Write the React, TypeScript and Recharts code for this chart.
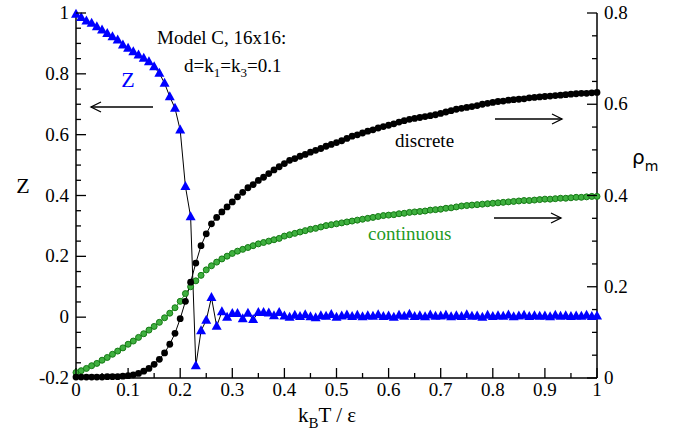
import { LineChart, Line, XAxis, YAxis } from "recharts";

// temperature grid k_B T / eps, step 0.01
const temps = Array.from({ length: 101 }, (_, i) => i / 100);

const zValues = [
  0.996, 0.985, 0.974, 0.966, 0.955, 0.944, 0.933, 0.922, 0.911, 0.895,
  0.884, 0.873, 0.862, 0.851, 0.84, 0.823, 0.802, 0.769, 0.725, 0.687,
  0.615, 0.43, 0.33, -0.16, -0.045, -0.01, 0.065, -0.03, 0.018, 0.0,
  0.012, 0.012, -0.005, 0.013, -0.008, 0.015, 0.015, 0.014, 0.005, 0.015,
  0.004, 0.0, 0.006, 0.002, 0.008, 0.001, -0.002, 0.005, 0.003, 0.009,
  0.0, 0.004, 0.007, 0.002, 0.006, 0.001, 0.005, 0.003, 0.008, 0.002,
  0.004, 0.0, 0.006, 0.003, 0.01, 0.002, 0.005, 0.001, 0.007, 0.003,
  0.004, 0.006, 0.001, 0.005, 0.002, 0.008, 0.003, 0.004, 0.0, 0.006,
  0.002, 0.005, 0.003, 0.007, 0.001, 0.004, 0.006, 0.002, 0.005, 0.003,
  0.004, 0.001, 0.006, 0.003, 0.005, 0.002, 0.004, 0.003, 0.006, 0.002,
  0.004,
];

const rhoDiscrete = [
  0.002, 0.002, 0.002, 0.002, 0.002, 0.002, 0.003, 0.003, 0.003, 0.004,
  0.005, 0.007, 0.01, 0.015, 0.021, 0.03, 0.041, 0.055, 0.074, 0.098,
  0.13, 0.168, 0.21, 0.252, 0.29, 0.316, 0.338, 0.352, 0.364, 0.375,
  0.386, 0.397, 0.407, 0.417, 0.424, 0.433, 0.44, 0.448, 0.456, 0.463,
  0.47, 0.477, 0.481, 0.486, 0.49, 0.495, 0.499, 0.503, 0.508, 0.512,
  0.516, 0.52, 0.525, 0.53, 0.533, 0.537, 0.541, 0.544, 0.548, 0.551,
  0.554, 0.557, 0.561, 0.564, 0.567, 0.569, 0.571, 0.573, 0.575, 0.577,
  0.58, 0.583, 0.586, 0.589, 0.591, 0.593, 0.595, 0.597, 0.6, 0.602,
  0.604, 0.606, 0.607, 0.609, 0.61, 0.611, 0.612, 0.614, 0.615, 0.616,
  0.617, 0.618, 0.619, 0.62, 0.621, 0.622, 0.623, 0.624, 0.624, 0.625,
  0.626,
];

const rhoContinuous = [
  0.012, 0.016, 0.021, 0.027, 0.032, 0.039, 0.045, 0.052, 0.059, 0.066,
  0.074, 0.081, 0.089, 0.097, 0.105, 0.113, 0.122, 0.132, 0.142, 0.154,
  0.168, 0.185, 0.2, 0.213, 0.225, 0.237, 0.246, 0.254, 0.261, 0.267,
  0.273, 0.278, 0.282, 0.286, 0.29, 0.294, 0.297, 0.3, 0.303, 0.306,
  0.311, 0.314, 0.317, 0.32, 0.323, 0.326, 0.328, 0.331, 0.334, 0.336,
  0.338, 0.34, 0.342, 0.344, 0.346, 0.348, 0.35, 0.352, 0.354, 0.356,
  0.357, 0.358, 0.36, 0.361, 0.363, 0.364, 0.365, 0.366, 0.368, 0.369,
  0.37, 0.372, 0.373, 0.375, 0.377, 0.378, 0.379, 0.38, 0.381, 0.382,
  0.383, 0.384, 0.385, 0.386, 0.387, 0.388, 0.389, 0.389, 0.39, 0.391,
  0.392, 0.392, 0.393, 0.394, 0.394, 0.395, 0.396, 0.396, 0.397, 0.398,
  0.398,
];

const xTicks = [
  0, 0.05, 0.1, 0.15, 0.2, 0.25, 0.3, 0.35, 0.4, 0.45, 0.5,
  0.55, 0.6, 0.65, 0.7, 0.75, 0.8, 0.85, 0.9, 0.95, 1,
];
const zTicks = [
  -0.2, -0.15, -0.1, -0.05, 0, 0.05, 0.1, 0.15, 0.2, 0.25, 0.3, 0.35, 0.4,
  0.45, 0.5, 0.55, 0.6, 0.65, 0.7, 0.75, 0.8, 0.85, 0.9, 0.95, 1,
];
const rhoTicks = [
  0, 0.05, 0.1, 0.15, 0.2, 0.25, 0.3, 0.35, 0.4, 0.45, 0.5, 0.55, 0.6, 0.65,
  0.7, 0.75, 0.8,
];

const zData = temps.map((t, i) => ({ t, v: zValues[i] }));
const discreteData = temps.map((t, i) => ({ t, v: rhoDiscrete[i] }));
const continuousData = temps.map((t, i) => ({ t, v: rhoContinuous[i] }));

const SERIF = "Liberation Serif";
const serif = { fontFamily: "'Liberation Serif', 'DejaVu Serif', serif" };
const GREEN = "#1f9a1f";

const isMajor = (v: number, step: number) =>
  Math.abs(v / step - Math.round(v / step)) < 1e-6;
const fmt = (v: number) => String(Math.round(v * 10) / 10);

const BottomTick = (props: any) => {
  const { x, y, payload } = props;
  const major = isMajor(payload.value, 0.1);
  return (
    <g>
      <line x1={x} x2={x} y1={y} y2={y - (major ? 10 : 5)} stroke="#000" strokeWidth={1.3} />
      {major && (
        <text x={x} y={y + 18} textAnchor="middle" fontFamily={SERIF} style={serif} fontSize={19} fill="#000">
          {fmt(payload.value)}
        </text>
      )}
    </g>
  );
};

const TopTick = (props: any) => {
  const { x, y, payload } = props;
  const major = isMajor(payload.value, 0.1);
  return <line x1={x} x2={x} y1={y} y2={y + (major ? 10 : 5)} stroke="#000" strokeWidth={1.3} />;
};

const LeftTick = (props: any) => {
  const { x, y, payload } = props;
  const major = isMajor(payload.value, 0.2);
  return (
    <g>
      <line x1={x} x2={x + (major ? 10 : 5)} y1={y} y2={y} stroke="#000" strokeWidth={1.3} />
      {major && (
        <text x={x - 7} y={y + 6} textAnchor="end" fontFamily={SERIF} style={serif} fontSize={19} fill="#000">
          {fmt(payload.value)}
        </text>
      )}
    </g>
  );
};

const RightTick = (props: any) => {
  const { x, y, payload } = props;
  const major = isMajor(payload.value, 0.2);
  return (
    <g>
      <line x1={x} x2={x - (major ? 10 : 5)} y1={y} y2={y} stroke="#000" strokeWidth={1.3} />
      {major && (
        <text x={x + 7} y={y + 6} textAnchor="start" fontFamily={SERIF} style={serif} fontSize={19} fill="#000">
          {fmt(payload.value)}
        </text>
      )}
    </g>
  );
};

const TriangleDot = (props: any) => {
  const { cx, cy, index } = props;
  if (cx == null || cy == null) return <g key={index} />;
  return (
    <polygon
      key={index}
      points={`${cx},${cy - 5.5} ${cx - 5},${cy + 3.5} ${cx + 5},${cy + 3.5}`}
      fill="#0000ff"
    />
  );
};

const BlackDot = (props: any) => {
  const { cx, cy, index } = props;
  return <circle key={index} cx={cx} cy={cy} r={3.4} fill="#000" />;
};

const GreenDot = (props: any) => {
  const { cx, cy, index } = props;
  return <circle key={index} cx={cx} cy={cy} r={3} fill="#3fb03f" stroke="#147a14" strokeWidth={1} />;
};

const axisLine = { stroke: "#000", strokeWidth: 1.5 };

export default function App() {
  return (
    <div style={{ position: "absolute", left: 0, top: 0, background: "#fff" }}>
      <LineChart width={686} height={433} margin={{ top: 13, right: 39, bottom: 0, left: 30 }}>
        <XAxis
          dataKey="t"
          type="number"
          domain={[0, 1]}
          ticks={xTicks}
          allowDuplicatedCategory={false}
          height={55}
          tickSize={0}
          tickMargin={0}
          axisLine={axisLine}
          tickLine={false}
          tick={BottomTick}
          interval={0}
        />
        <XAxis
          xAxisId="top"
          orientation="top"
          dataKey="t"
          type="number"
          domain={[0, 1]}
          ticks={xTicks}
          height={0}
          tickSize={0}
          tickMargin={0}
          axisLine={axisLine}
          tickLine={false}
          tick={TopTick}
          interval={0}
        />
        <YAxis
          yAxisId="z"
          type="number"
          domain={[-0.2, 1]}
          ticks={zTicks}
          width={46}
          tickSize={0}
          tickMargin={0}
          axisLine={axisLine}
          tickLine={false}
          tick={LeftTick}
          interval={0}
        />
        <YAxis
          yAxisId="rho"
          orientation="right"
          type="number"
          domain={[0, 0.8]}
          ticks={rhoTicks}
          width={50}
          tickSize={0}
          tickMargin={0}
          axisLine={axisLine}
          tickLine={false}
          tick={RightTick}
          interval={0}
        />
        <Line
          data={continuousData}
          dataKey="v"
          yAxisId="rho"
          stroke={GREEN}
          strokeWidth={1}
          dot={GreenDot}
          isAnimationActive={false}
        />
        <Line
          data={discreteData}
          dataKey="v"
          yAxisId="rho"
          stroke="#000"
          strokeWidth={1}
          dot={BlackDot}
          isAnimationActive={false}
        />
        <Line
          data={zData}
          dataKey="v"
          yAxisId="z"
          stroke="#000"
          strokeWidth={1}
          dot={TriangleDot}
          isAnimationActive={false}
        />

        {/* axis titles */}
        <text x={23} y={193} textAnchor="middle" fontFamily={SERIF} style={serif} fontSize={22} fill="#000">
          Z
        </text>
        <text x={632} y={164} fontFamily="DejaVu Sans" fontSize={20} fill="#000">
          ρ<tspan dy={7} fontSize={14}>m</tspan>
        </text>
        <text x={298} y={422} fontFamily={SERIF} style={serif} fontSize={21} fill="#000">
          k<tspan dy={6} fontSize={15}>B</tspan>
          <tspan dy={-6}>T / ε</tspan>
        </text>

        {/* annotations */}
        <text x={157} y={44} fontFamily={SERIF} style={serif} fontSize={19} fill="#000">
          Model C, 16x16:
        </text>
        <text x={184} y={72} fontFamily={SERIF} style={serif} fontSize={19} fill="#000">
          d=k<tspan dy={5} fontSize={13}>1</tspan>
          <tspan dy={-5}>=k</tspan>
          <tspan dy={5} fontSize={13}>3</tspan>
          <tspan dy={-5}>=0.1</tspan>
        </text>
        <text x={128} y={87} textAnchor="middle" fontFamily={SERIF} style={serif} fontSize={22} fill="#0000ff">
          Z
        </text>
        <g stroke="#000" strokeWidth={1.3} fill="none">
          <line x1={91} y1={107} x2={153} y2={107} />
          <polyline points="101,102 91,107 101,112" />
          <line x1={495} y1={119} x2={562} y2={119} />
          <polyline points="552,114 562,119 552,124" />
          <line x1={494} y1={218} x2={561} y2={218} />
          <polyline points="551,213 561,218 551,223" />
        </g>
        <text x={395} y={147} fontFamily={SERIF} style={serif} fontSize={19} fill="#000">
          discrete
        </text>
        <text x={368} y={240} fontFamily={SERIF} style={serif} fontSize={19} fill={GREEN}>
          continuous
        </text>
      </LineChart>
    </div>
  );
}
